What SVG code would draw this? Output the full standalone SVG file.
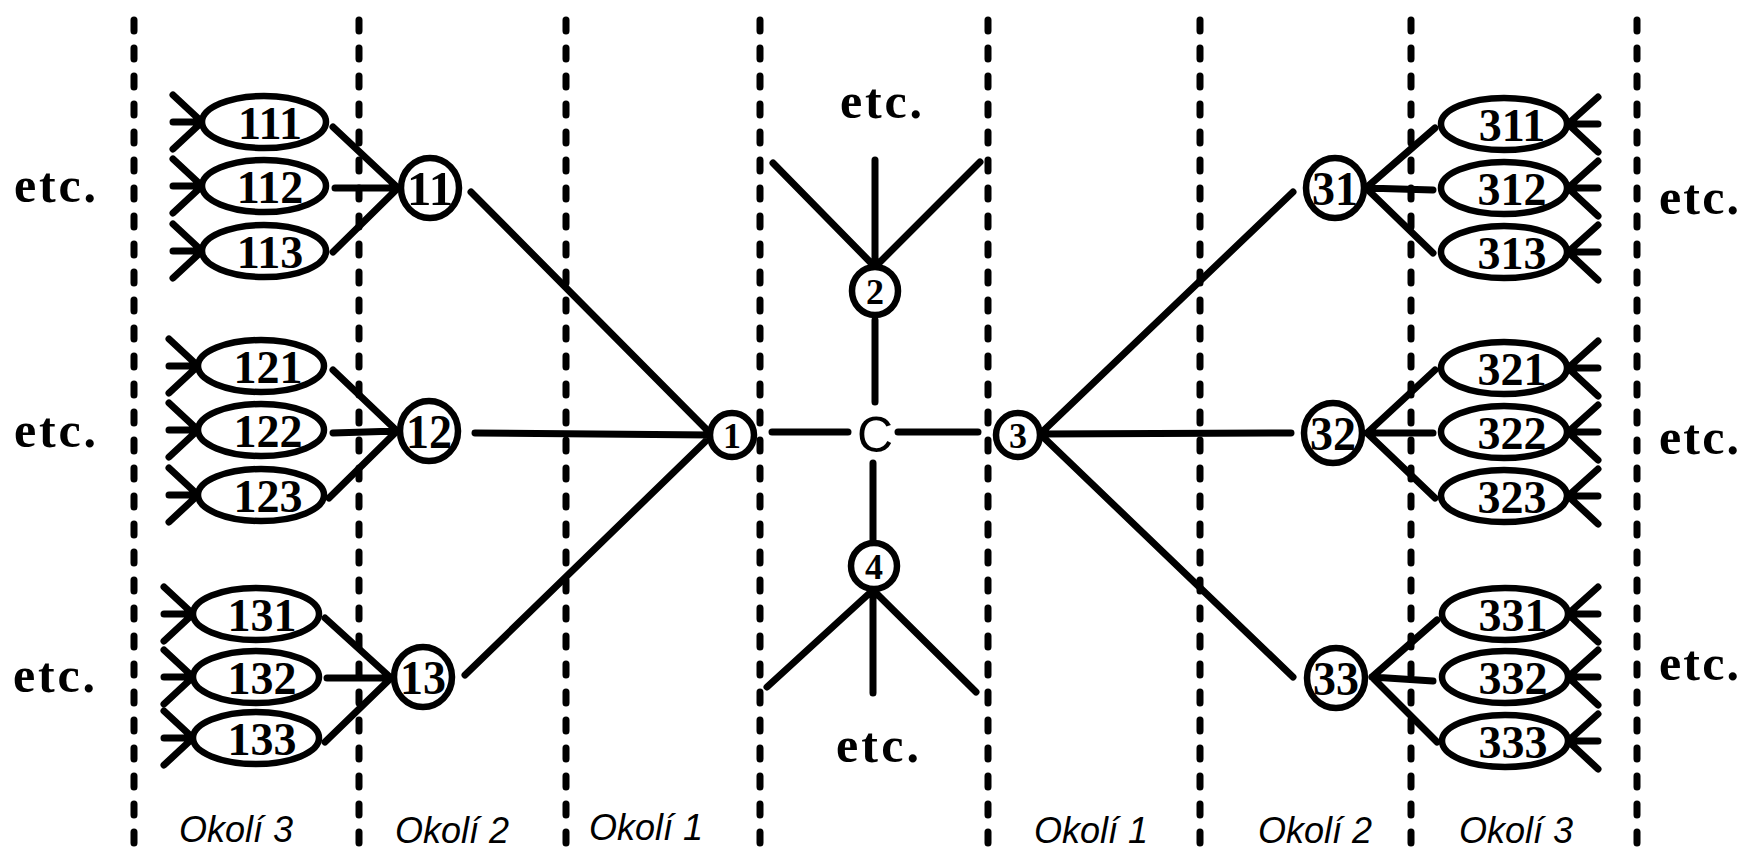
<svg xmlns="http://www.w3.org/2000/svg" width="1746" height="851" viewBox="0 0 1746 851">
<style>
.bg{fill:#fff}
.dash{stroke:#000;stroke-width:7;stroke-linecap:round;stroke-dasharray:11 17;fill:none}
.e{stroke:#000;stroke-width:7;stroke-linecap:round;fill:none}
.n{stroke:#000;stroke-width:6.5;fill:#fff}
.num{font-family:"Liberation Serif",serif;font-weight:bold;font-size:46px;text-anchor:middle;fill:#000}
.cn{font-family:"Liberation Serif",serif;font-weight:bold;font-size:48px;text-anchor:middle;fill:#000}
.sn{font-family:"Liberation Serif",serif;font-weight:bold;font-size:36px;text-anchor:middle;fill:#000}
.etc{font-family:"Liberation Serif",serif;font-weight:bold;font-size:50px;fill:#000}
.ok{font-family:"Liberation Sans",sans-serif;font-style:italic;font-size:36px;text-anchor:middle;fill:#000}
.c{font-family:"Liberation Sans",sans-serif;font-size:50px;text-anchor:middle;fill:#000}
</style>
<rect class="bg" x="0" y="0" width="1746" height="851"/>
<g id="zones">
<line class="dash" x1="134" y1="20" x2="134" y2="851"/>
<line class="dash" x1="359" y1="20" x2="359" y2="851"/>
<line class="dash" x1="566" y1="20" x2="566" y2="851"/>
<line class="dash" x1="760" y1="20" x2="760" y2="851"/>
<line class="dash" x1="988" y1="20" x2="988" y2="851"/>
<line class="dash" x1="1200" y1="20" x2="1200" y2="851"/>
<line class="dash" x1="1411" y1="20" x2="1411" y2="851"/>
<line class="dash" x1="1637" y1="20" x2="1637" y2="851"/>
</g>
<g id="connectors">
<path class="e" d="M173 95L202 122M173 122H202M173 149L202 122"/>
<path class="e" d="M173 159L202 186M173 186H202M173 213L202 186"/>
<path class="e" d="M173 224L202 251M173 251H202M173 278L202 251"/>
<path class="e" d="M169 339L198 366M169 366H198M169 393L198 366"/>
<path class="e" d="M169 403L198 430M169 430H198M169 457L198 430"/>
<path class="e" d="M169 468L198 495M169 495H198M169 522L198 495"/>
<path class="e" d="M164 587L193 614M164 614H193M164 641L193 614"/>
<path class="e" d="M164 650L193 677M164 677H193M164 704L193 677"/>
<path class="e" d="M164 711L193 738M164 738H193M164 765L193 738"/>
<path class="e" d="M333 127L398 188M335 188H398M333 252L398 188"/>
<path class="e" d="M333 370L397 431M333 433L397 431M329 498L397 431"/>
<path class="e" d="M325 618L391 678M327 678H391M325 742L391 678"/>
<path class="e" d="M471 192L712 435M475 433L712 435M465 675L712 435"/>
<path class="e" d="M772 432H848M898 432H978"/>
<path class="e" d="M875 320V402M873 463V543"/>
<path class="e" d="M773 163L875 267M875 160V267M980 162L875 267"/>
<path class="e" d="M767 687L873 590M873 693V590M976 692L873 590"/>
<path class="e" d="M1040 434L1293 192M1040 434L1291 433M1040 434L1293 677"/>
<path class="e" d="M1366 188L1435 128M1366 188L1433 190M1366 188L1433 253"/>
<path class="e" d="M1367 433L1435 370M1367 433H1433M1367 433L1435 498"/>
<path class="e" d="M1372 677L1437 620M1372 677L1433 681M1372 677L1437 742"/>
<path class="e" d="M1598 97L1568 124M1598 124H1568M1598 152L1568 124"/>
<path class="e" d="M1598 161L1568 188M1598 188H1568M1598 216L1568 188"/>
<path class="e" d="M1598 225L1568 252M1598 252H1568M1598 280L1568 252"/>
<path class="e" d="M1598 341L1568 368M1598 368H1568M1598 396L1568 368"/>
<path class="e" d="M1598 405L1568 432M1598 432H1568M1598 460L1568 432"/>
<path class="e" d="M1598 469L1568 496M1598 496H1568M1598 524L1568 496"/>
<path class="e" d="M1598 587L1568 614M1598 614H1568M1598 642L1568 614"/>
<path class="e" d="M1598 650L1568 677M1598 677H1568M1598 705L1568 677"/>
<path class="e" d="M1598 714L1568 741M1598 741H1568M1598 769L1568 741"/>
</g>
<g id="n111"><ellipse class="n" cx="264" cy="122" rx="62" ry="26"/><text class="num" x="270" y="139">111</text></g>
<g id="n112"><ellipse class="n" cx="264" cy="186" rx="62" ry="26"/><text class="num" x="270" y="203">112</text></g>
<g id="n113"><ellipse class="n" cx="264" cy="251" rx="62" ry="26"/><text class="num" x="270" y="268">113</text></g>
<g id="n121"><ellipse class="n" cx="261" cy="366" rx="63" ry="26"/><text class="num" x="268" y="383">121</text></g>
<g id="n122"><ellipse class="n" cx="261" cy="430" rx="63" ry="26"/><text class="num" x="268" y="447">122</text></g>
<g id="n123"><ellipse class="n" cx="261" cy="495" rx="63" ry="26"/><text class="num" x="268" y="512">123</text></g>
<g id="n131"><ellipse class="n" cx="256" cy="614" rx="63" ry="26"/><text class="num" x="262" y="631">131</text></g>
<g id="n132"><ellipse class="n" cx="256" cy="677" rx="63" ry="26"/><text class="num" x="262" y="694">132</text></g>
<g id="n133"><ellipse class="n" cx="256" cy="738" rx="63" ry="26"/><text class="num" x="262" y="755">133</text></g>
<g id="n11"><ellipse class="n" cx="430" cy="188" rx="29" ry="30"/><text class="cn" x="430" y="205" textLength="46" lengthAdjust="spacingAndGlyphs">11</text></g>
<g id="n12"><ellipse class="n" cx="429" cy="431" rx="29" ry="30"/><text class="cn" x="429" y="448" textLength="46" lengthAdjust="spacingAndGlyphs">12</text></g>
<g id="n13"><ellipse class="n" cx="423" cy="677" rx="29" ry="30"/><text class="cn" x="423" y="694" textLength="46" lengthAdjust="spacingAndGlyphs">13</text></g>
<g id="n1"><ellipse class="n" cx="732" cy="435" rx="22" ry="22"/><text class="sn" x="732" y="448">1</text></g>
<g id="nC"><text class="c" x="875" y="452">C</text></g>
<g id="n2"><ellipse class="n" cx="875" cy="291" rx="23" ry="24"/><text class="sn" x="875" y="304">2</text></g>
<g id="n4"><ellipse class="n" cx="874" cy="566" rx="23" ry="23"/><text class="sn" x="874" y="579">4</text></g>
<g id="n3"><ellipse class="n" cx="1018" cy="435" rx="22" ry="22"/><text class="sn" x="1018" y="448">3</text></g>
<g id="n31"><ellipse class="n" cx="1335" cy="188" rx="29" ry="30"/><text class="cn" x="1335" y="205" textLength="46" lengthAdjust="spacingAndGlyphs">31</text></g>
<g id="n32"><ellipse class="n" cx="1333" cy="433" rx="29" ry="30"/><text class="cn" x="1333" y="450" textLength="46" lengthAdjust="spacingAndGlyphs">32</text></g>
<g id="n33"><ellipse class="n" cx="1336" cy="678" rx="29" ry="30"/><text class="cn" x="1336" y="695" textLength="46" lengthAdjust="spacingAndGlyphs">33</text></g>
<g id="n311"><ellipse class="n" cx="1504" cy="124" rx="63" ry="26"/><text class="num" x="1512" y="141">311</text></g>
<g id="n312"><ellipse class="n" cx="1504" cy="188" rx="63" ry="26"/><text class="num" x="1512" y="205">312</text></g>
<g id="n313"><ellipse class="n" cx="1504" cy="252" rx="63" ry="26"/><text class="num" x="1512" y="269">313</text></g>
<g id="n321"><ellipse class="n" cx="1504" cy="368" rx="63" ry="26"/><text class="num" x="1512" y="385">321</text></g>
<g id="n322"><ellipse class="n" cx="1504" cy="432" rx="63" ry="26"/><text class="num" x="1512" y="449">322</text></g>
<g id="n323"><ellipse class="n" cx="1504" cy="496" rx="63" ry="26"/><text class="num" x="1512" y="513">323</text></g>
<g id="n331"><ellipse class="n" cx="1505" cy="614" rx="63" ry="26"/><text class="num" x="1513" y="631">331</text></g>
<g id="n332"><ellipse class="n" cx="1505" cy="677" rx="63" ry="26"/><text class="num" x="1513" y="694">332</text></g>
<g id="n333"><ellipse class="n" cx="1505" cy="741" rx="63" ry="26"/><text class="num" x="1513" y="758">333</text></g>
<g id="etc-labels">
<text class="etc" x="14" y="202" textLength="82" lengthAdjust="spacing">etc.</text>
<text class="etc" x="14" y="447" textLength="82" lengthAdjust="spacing">etc.</text>
<text class="etc" x="13" y="692" textLength="82" lengthAdjust="spacing">etc.</text>
<text class="etc" x="1659" y="214" textLength="80" lengthAdjust="spacing">etc.</text>
<text class="etc" x="1659" y="454" textLength="80" lengthAdjust="spacing">etc.</text>
<text class="etc" x="1659" y="680" textLength="80" lengthAdjust="spacing">etc.</text>
<text class="etc" x="840" y="118" textLength="82" lengthAdjust="spacing">etc.</text>
<text class="etc" x="836" y="762" textLength="83" lengthAdjust="spacing">etc.</text>
</g>
<g id="zone-labels">
<text class="ok" x="236" y="842">Okolí 3</text>
<text class="ok" x="452" y="843">Okolí 2</text>
<text class="ok" x="646" y="840">Okolí 1</text>
<text class="ok" x="1091" y="843">Okolí 1</text>
<text class="ok" x="1315" y="843">Okolí 2</text>
<text class="ok" x="1516" y="843">Okolí 3</text>
</g>
</svg>
